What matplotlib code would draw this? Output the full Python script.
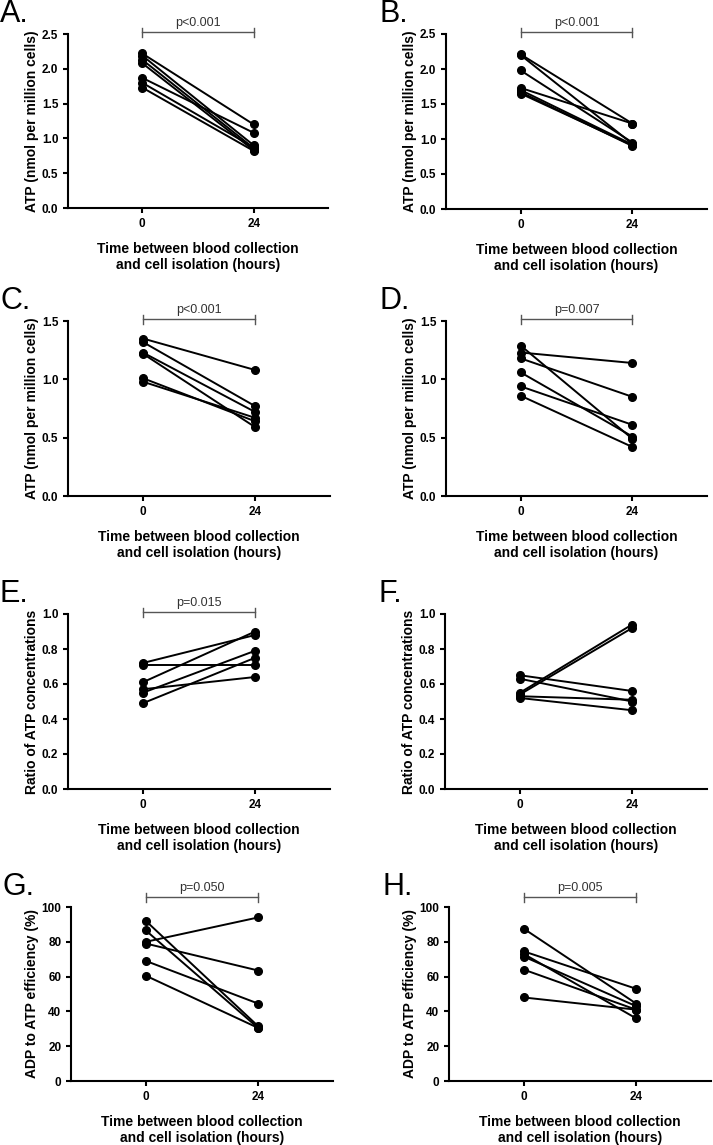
import matplotlib
matplotlib.use("Agg")
import matplotlib.pyplot as plt
from matplotlib.transforms import blended_transform_factory

plt.rcParams["font.family"] = ["Liberation Sans", "DejaVu Sans"]

# paired values per panel: hour 0 and hour 24 (same order = same subject)
A_0 = [2.22, 2.19, 2.13, 2.08, 1.87, 1.80, 1.73]
A_24 = [1.20, 0.90, 0.86, 0.83, 1.08, 0.87, 0.82]

B_0 = [2.21, 2.20, 1.98, 1.73, 1.70, 1.67, 1.65]
B_24 = [1.22, 0.93, 0.95, 1.22, 0.92, 0.90, 0.91]

C_0 = [1.35, 1.32, 1.23, 1.22, 1.01, 0.98]
C_24 = [1.08, 0.77, 0.72, 0.59, 0.64, 0.67]

D_0 = [1.23, 1.18, 1.29, 1.06, 0.94, 0.86]
D_24 = [1.14, 0.85, 0.49, 0.51, 0.61, 0.42]

E_0 = [0.72, 0.71, 0.61, 0.57, 0.55, 0.49]
E_24 = [0.88, 0.71, 0.90, 0.64, 0.79, 0.75]

F_0 = [0.55, 0.54, 0.65, 0.63, 0.53, 0.52]
F_24 = [0.94, 0.92, 0.56, 0.50, 0.51, 0.45]

G_0 = [92, 86.5, 80, 79, 69, 60.5]
G_24 = [31.5, 30.5, 94, 63.5, 44.5, 30.5]

H_0 = [87.5, 74.5, 73, 71.5, 64, 48]
H_24 = [44.5, 53, 36, 43, 41, 41]

HOURS = [0, 24]
XLABEL = "Time between blood collection\nand cell isolation (hours)"
YLAB_ATP = "ATP (nmol per million cells)"
YLAB_RATIO = "Ratio of ATP concentrations"
YLAB_EFF = "ADP to ATP efficiency (%)"

# letter, data0, data24, ylabel, yticks, tick format, p text, axes rect (px: left, top, right, bottom)
PANELS = [
    ("A.", A_0, A_24, YLAB_ATP, [0, 0.5, 1.0, 1.5, 2.0, 2.5], "{:.1f}", "p<0.001", (68, 34, 328, 208)),
    ("B.", B_0, B_24, YLAB_ATP, [0, 0.5, 1.0, 1.5, 2.0, 2.5], "{:.1f}", "p<0.001", (446, 34, 707, 209)),
    ("C.", C_0, C_24, YLAB_ATP, [0, 0.5, 1.0, 1.5], "{:.1f}", "p<0.001", (68, 321, 330, 496)),
    ("D.", D_0, D_24, YLAB_ATP, [0, 0.5, 1.0, 1.5], "{:.1f}", "p=0.007", (446, 321, 707, 496)),
    ("E.", E_0, E_24, YLAB_RATIO, [0, 0.2, 0.4, 0.6, 0.8, 1.0], "{:.1f}", "p=0.015", (68, 614, 330, 789)),
    ("F.", F_0, F_24, YLAB_RATIO, [0, 0.2, 0.4, 0.6, 0.8, 1.0], "{:.1f}", None, (445, 614, 707, 789)),
    ("G.", G_0, G_24, YLAB_EFF, [0, 20, 40, 60, 80, 100], "{:.0f}", "p=0.050", (71, 907, 333, 1081)),
    ("H.", H_0, H_24, YLAB_EFF, [0, 20, 40, 60, 80, 100], "{:.0f}", "p=0.005", (449, 907, 711, 1081)),
]

W, H = 713, 1145
fig = plt.figure(figsize=(W / 100, H / 100), dpi=100)

for letter, v0, v24, ylab, yticks, fmt, ptxt, (l, t, r, b) in PANELS:
    ax = fig.add_axes([l / W, 1 - b / H, (r - l) / W, (b - t) / H])
    for a, c in zip(v0, v24):
        ax.plot(HOURS, [a, c], color="black", lw=1.4, marker="o", ms=5.5,
                clip_on=False, zorder=3)
    ax.set_xlim(-16, 40)
    ax.set_ylim(yticks[0], yticks[-1])
    ax.set_xticks(HOURS)
    ax.set_yticks(yticks)
    ax.set_yticklabels([fmt.format(v) for v in yticks])
    for s in ["top", "right"]:
        ax.spines[s].set_visible(False)
    for s in ["left", "bottom"]:
        ax.spines[s].set_linewidth(1.5)
    ax.tick_params(width=1.5, length=3.5, labelsize=8.5)
    for lab in ax.get_xticklabels() + ax.get_yticklabels():
        lab.set_fontweight("bold")
    ax.set_xlabel(XLABEL, fontsize=10, fontweight="bold", labelpad=9)
    ax.set_ylabel(ylab, fontsize=10, fontweight="bold", labelpad=2)

    # panel letter
    fig.text((l - 68) / W if l < 300 else (l - 66) / W, 1 - (t - 12) / H, letter,
             fontsize=22, ha="left", va="baseline")

    if ptxt:
        tr = blended_transform_factory(ax.transData, ax.transAxes)
        off = 10 if ylab == YLAB_EFF else 2
        yb = 1 + off / (b - t)
        dy = 4.5 / (b - t)
        ax.plot([0, 24], [yb, yb], color="#555555", lw=1.0, transform=tr, clip_on=False)
        for xx in HOURS:
            ax.plot([xx, xx], [yb - dy, yb + dy], color="#555555", lw=1.0,
                    transform=tr, clip_on=False)
        ax.text(12, yb + 3 / (b - t), ptxt, transform=tr, ha="center", va="bottom",
                fontsize=9, color="#333333")

fig.savefig("out.png", dpi=100)
